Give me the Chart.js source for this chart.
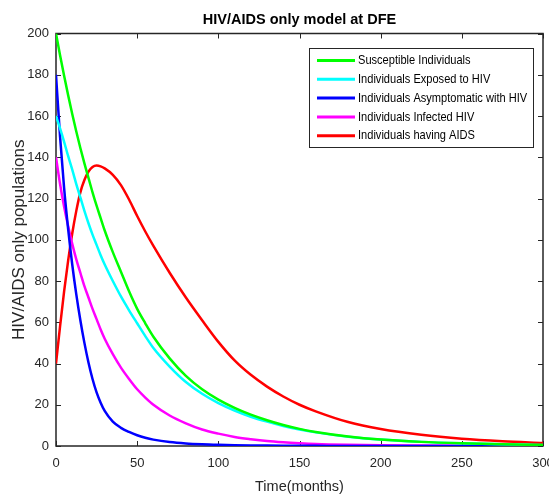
<!DOCTYPE html>
<html><head><meta charset="utf-8">
<script src="https://cdn.jsdelivr.net/npm/chart.js@4/dist/chart.umd.min.js"></script>
<style>html,body{margin:0;padding:0;background:#fff;}</style>
</head><body>
<canvas id="c" width="549" height="494" style="display:block;width:549px;height:494px"></canvas>
<script>
// ---- data ----
const times        = [0, 2.5, 5, 7.5, 10, 12.5, 15, 17.5, 20, 22.5, 25, 27.5, 30, 35, 40, 45, 50, 55, 60, 70, 80, 90, 100, 110, 120, 130, 140, 150, 160, 180, 200, 225, 250, 275, 300];
const susceptible  = [200, 189.5, 179.5, 170, 161, 152.5, 144.5, 137, 130, 123, 116.5, 110.5, 104.5, 94, 84.5, 75, 66.5, 59.5, 53, 42.5, 34, 27.5, 22.5, 18.5, 15.2, 12.5, 10.2, 8.3, 6.8, 4.6, 3.1, 2, 1.3, 0.8, 0.5];
const exposed      = [160, 154, 147.5, 140.5, 134, 127, 120.5, 114, 108, 102.5, 97.5, 92.5, 88, 80, 72.5, 65.8, 59.5, 53.3, 47.5, 38.5, 31, 25.3, 20.8, 17.2, 14.2, 11.8, 9.7, 8, 6.6, 4.5, 3.1, 2, 1.3, 0.8, 0.5];
const asymptomatic = [180, 150, 125, 105, 88, 73.5, 61, 50, 40.5, 32.5, 26, 21, 17, 11.8, 8.8, 6.8, 5.2, 4, 3.1, 1.9, 1.2, 0.8, 0.55, 0.38, 0.27, 0.2, 0.14, 0.1, 0.07, 0.04, 0.02, 0.01, 0, 0, 0];
const infected     = [140, 127, 116, 106.5, 98, 90.5, 84, 77.5, 72, 66.5, 61.5, 56.5, 52, 44.5, 38, 32.5, 27.5, 23.5, 20, 14.8, 11, 8, 6, 4.4, 3.3, 2.4, 1.8, 1.35, 1, 0.6, 0.35, 0.2, 0.1, 0.05, 0];
const aids         = [40, 58, 75, 90, 103, 114, 123, 129, 133, 135.3, 136, 135.6, 134.6, 131.5, 126.5, 119.5, 111.5, 104, 97, 84, 72, 61, 50.5, 41.5, 34.5, 28.8, 24, 20, 16.8, 11.6, 8.2, 5.4, 3.5, 2.3, 1.5];
const seriesLabels = ['Susceptible Individuals', 'Individuals Exposed to HIV', 'Individuals Asymptomatic with HIV', 'Individuals Infected HIV', 'Individuals having AIDS'];
const seriesColors = ['#00ff00', '#00ffff', '#0000ff', '#ff00ff', '#ff0000'];
const xTickValues  = [0, 50, 100, 150, 200, 250, 300];
const yTickValues  = [0, 20, 40, 60, 80, 100, 120, 140, 160, 180, 200];

const FONT = "'Liberation Sans', Arial, Helvetica, sans-serif";
const INK = '#262626';

const allSeries = [susceptible, exposed, asymptomatic, infected, aids];
const datasets = allSeries.map((vals, i) => ({
  label: seriesLabels[i],
  data: vals.map((v, k) => ({x: times[k], y: v})),
  borderColor: seriesColors[i],
  backgroundColor: seriesColors[i],
  borderWidth: 2.5,
  pointRadius: 0,
  fill: false,
  cubicInterpolationMode: 'monotone'
}));

const boxPlugin = {
  id: 'matlabBox',
  beforeDatasetsDraw(chart) {
    const {ctx, chartArea: a, scales: {x, y}} = chart;
    ctx.save();
    ctx.strokeStyle = INK;
    ctx.lineWidth = 1.5;
    ctx.strokeRect(a.left, a.top, a.right - a.left, a.bottom - a.top);
    ctx.lineWidth = 1;
    const tl = 5;
    ctx.beginPath();
    x.ticks.forEach(t => {
      const px = Math.round(x.getPixelForValue(t.value)) + 0.5;
      ctx.moveTo(px, a.bottom); ctx.lineTo(px, a.bottom - tl);
      ctx.moveTo(px, a.top); ctx.lineTo(px, a.top + tl);
    });
    y.ticks.forEach(t => {
      const py = Math.round(y.getPixelForValue(t.value)) + 0.5;
      ctx.moveTo(a.left, py); ctx.lineTo(a.left + tl, py);
      ctx.moveTo(a.right, py); ctx.lineTo(a.right - tl, py);
    });
    ctx.stroke();
    ctx.restore();
  },
  afterDraw(chart) {
    const {ctx, chartArea: a} = chart;
    const w = 224, h = 99;
    const x0 = a.right - 10 - w, y0 = a.top + 14.5;
    ctx.save();
    ctx.fillStyle = '#fff';
    ctx.fillRect(x0, y0, w, h);
    ctx.strokeStyle = INK;
    ctx.lineWidth = 1;
    ctx.strokeRect(x0 + 0.5, y0 + 0.5, w, h);
    ctx.font = '13.5px ' + FONT;
    ctx.textBaseline = 'middle';
    ctx.textAlign = 'left';
    chart.data.datasets.forEach((ds, i) => {
      const yy = y0 + 12.5 + i * 18.8;
      ctx.strokeStyle = ds.borderColor;
      ctx.lineWidth = 3;
      ctx.beginPath();
      ctx.moveTo(x0 + 8, yy); ctx.lineTo(x0 + 46, yy);
      ctx.stroke();
      ctx.fillStyle = '#000';
      ctx.save();
      ctx.translate(x0 + 49, yy);
      ctx.scale(0.82, 1);   // narrow lettering like the reference
      ctx.fillText(ds.label, 0, 0);
      ctx.restore();
    });
    ctx.restore();
  }
};

new Chart(document.getElementById('c'), {
  type: 'line',
  data: {datasets},
  plugins: [boxPlugin],
  options: {
    responsive: false,
    animation: false,
    devicePixelRatio: 1,
    layout: {padding: {left: 0, right: 6, top: 0, bottom: 0}},
    plugins: {
      legend: {display: false},
      tooltip: {enabled: false},
      title: {
        display: true,
        text: 'HIV/AIDS only model at DFE',
        fullSize: false,
        color: '#000',
        font: {family: FONT, size: 14.5, weight: 'bold', lineHeight: 1.2},
        padding: {top: 11, bottom: 5.1}
      }
    },
    scales: {
      x: {
        type: 'linear',
        min: 0, max: 300,
        afterBuildTicks: s => { s.ticks = xTickValues.map(v => ({value: v})); },
        afterFit: s => { s.height = 48; s.paddingLeft = 0; s.paddingRight = 0; },
        grid: {display: false, drawTicks: false},
        border: {display: false},
        ticks: {color: INK, font: {family: FONT, size: 13}, padding: 10, maxRotation: 0, autoSkip: false},
        title: {display: true, text: 'Time(months)', color: INK, font: {family: FONT, size: 14.5, lineHeight: 1}, padding: {top: 0, bottom: 0}}
      },
      y: {
        type: 'linear',
        min: 0, max: 200,
        afterBuildTicks: s => { s.ticks = yTickValues.map(v => ({value: v})); },
        afterFit: s => { s.width = 56; s.paddingTop = 0; s.paddingBottom = 0; },
        grid: {display: false, drawTicks: false},
        border: {display: false},
        ticks: {color: INK, font: {family: FONT, size: 13}, padding: 7, autoSkip: false},
        title: {display: true, text: 'HIV/AIDS only populations', color: INK, font: {family: FONT, size: 17, lineHeight: 1.2}, padding: {top: 9, bottom: 0}}
      }
    }
  }
});
</script>
</body></html>
